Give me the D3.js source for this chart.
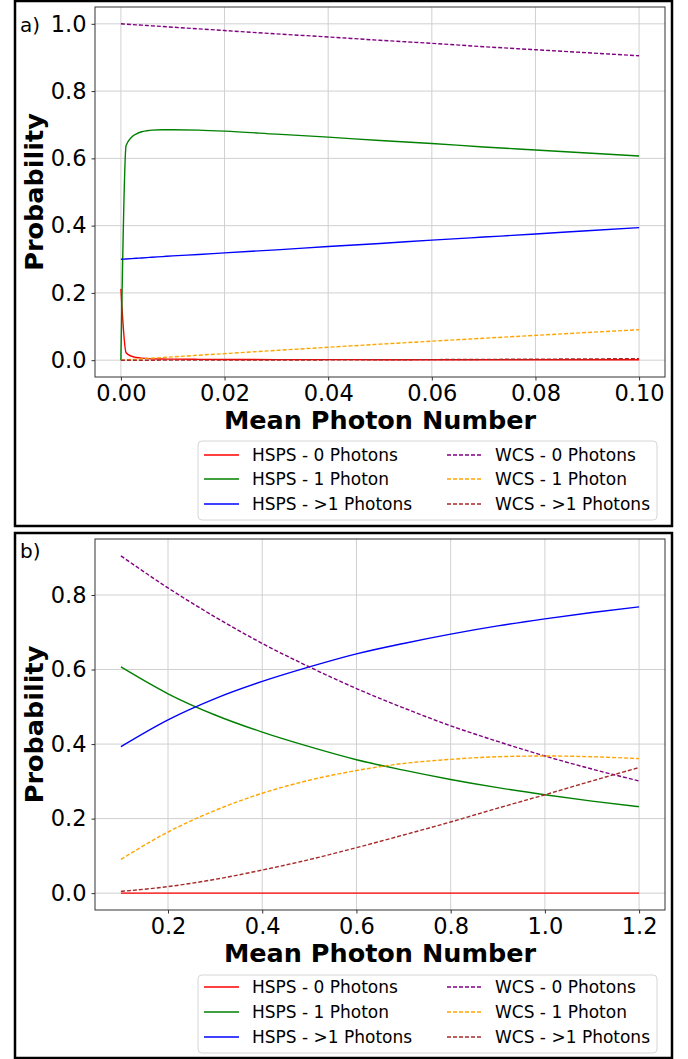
<!DOCTYPE html>
<html>
<head>
<meta charset="utf-8">
<script src="https://cdn.jsdelivr.net/npm/d3@7"></script>
<style>
  html, body { margin: 0; padding: 0; background: #fff; }
  svg { display: block; font-family: "DejaVu Sans", sans-serif; }
</style>
</head>
<body>
<svg id="chart" width="688" height="1059"></svg>
<script>
// ---------- Panel a data (mean photon number 0 – 0.1) ----------
const xA = [0, 0.001, 0.002, 0.003, 0.004, 0.005, 0.006, 0.008, 0.01, 0.015, 0.02, 0.03, 0.04, 0.05, 0.06, 0.07, 0.08, 0.09, 0.1];
const hsps0A = [0.212, 0.022, 0.012, 0.008, 0.006, 0.005, 0.004, 0.0035, 0.003, 0.0025, 0.002, 0.0018, 0.0016, 0.0015, 0.0014, 0.0013, 0.0012, 0.0012, 0.0011];
const hsps1A = [0.0, 0.638, 0.662, 0.673, 0.679, 0.682, 0.684, 0.685, 0.685, 0.684, 0.681, 0.672, 0.663, 0.653, 0.644, 0.634, 0.625, 0.616, 0.607];
const hspsMA = [0.300, 0.301, 0.302, 0.303, 0.304, 0.305, 0.306, 0.308, 0.310, 0.314, 0.319, 0.328, 0.338, 0.347, 0.357, 0.366, 0.375, 0.385, 0.394];
const wcs0A = [1.0, 0.999, 0.998, 0.997, 0.996, 0.995, 0.994, 0.992, 0.990, 0.985, 0.980, 0.970, 0.961, 0.951, 0.942, 0.932, 0.923, 0.914, 0.905];
const wcs1A = [0.0, 0.001, 0.002, 0.003, 0.004, 0.005, 0.006, 0.0079, 0.0099, 0.0148, 0.0196, 0.0291, 0.0384, 0.0476, 0.0565, 0.0652, 0.0738, 0.0823, 0.0905];
const wcsMA = [0.0, 0.0, 0.0, 0.0, 0.0, 0.0, 0.0, 0.00003, 0.00005, 0.0001, 0.0002, 0.0004, 0.0008, 0.0012, 0.0017, 0.0023, 0.0030, 0.0037, 0.0047];
const xTicksA = [0, 0.02, 0.04, 0.06, 0.08, 0.1];
const yTicksA = [0, 0.2, 0.4, 0.6, 0.8, 1.0];

// ---------- Panel b data (mean photon number 0.1 – 1.2) ----------
const xB = [0.1, 0.2, 0.3, 0.4, 0.5, 0.6, 0.7, 0.8, 0.9, 1.0, 1.1, 1.2];
const hsps0B = [0, 0, 0, 0, 0, 0, 0, 0, 0, 0, 0, 0];
const hsps1B = [0.607, 0.535, 0.478, 0.432, 0.393, 0.358, 0.330, 0.305, 0.283, 0.264, 0.247, 0.232];
const hspsMB = [0.393, 0.465, 0.522, 0.568, 0.607, 0.642, 0.670, 0.695, 0.717, 0.736, 0.753, 0.768];
const wcs0B = [0.905, 0.819, 0.741, 0.670, 0.607, 0.549, 0.497, 0.449, 0.407, 0.368, 0.333, 0.301];
const wcs1B = [0.0905, 0.164, 0.222, 0.268, 0.303, 0.329, 0.348, 0.359, 0.366, 0.368, 0.366, 0.361];
const wcsMB = [0.0047, 0.0175, 0.037, 0.062, 0.090, 0.122, 0.156, 0.191, 0.228, 0.264, 0.301, 0.337];
const xTicksB = [0.2, 0.4, 0.6, 0.8, 1.0, 1.2];
const yTicksB = [0, 0.2, 0.4, 0.6, 0.8];

// ---------- Series labels ----------
const seriesNames = ["HSPS - 0 Photons", "HSPS - 1 Photon", "HSPS - >1 Photons", "WCS - 0 Photons", "WCS - 1 Photon", "WCS - >1 Photons"];
const seriesColors = ["#ff0000", "#008000", "#0000ff", "#800080", "#ffa500", "#a52a2a"];
const seriesDashed = [false, false, false, true, true, true];

const svg = d3.select("#chart");
svg.append("rect").attr("width", 688).attr("height", 1059).attr("fill", "#fff");

function drawPanel(cfg) {
  const g = svg.append("g");
  const x = d3.scaleLinear().domain(cfg.xDomain).range([cfg.left, cfg.right]);
  const y = d3.scaleLinear().domain(cfg.yDomain).range([cfg.bottom, cfg.top]);

  // outer frame
  g.append("rect")
    .attr("x", cfg.frame[0]).attr("y", cfg.frame[1])
    .attr("width", cfg.frame[2]).attr("height", cfg.frame[3])
    .attr("fill", "none").attr("stroke", "#000").attr("stroke-width", 2.5);

  // grid
  g.append("g").selectAll("line").data(cfg.xTicks).join("line")
    .attr("x1", d => x(d)).attr("x2", d => x(d))
    .attr("y1", cfg.top).attr("y2", cfg.bottom)
    .attr("stroke", "#d0d0d0").attr("stroke-width", 1);
  g.append("g").selectAll("line").data(cfg.yTicks).join("line")
    .attr("x1", cfg.left).attr("x2", cfg.right)
    .attr("y1", d => y(d)).attr("y2", d => y(d))
    .attr("stroke", "#d0d0d0").attr("stroke-width", 1);

  // axes
  const xAxis = d3.axisBottom(x).tickValues(cfg.xTicks).tickFormat(d3.format(cfg.xFmt)).tickSize(3.5).tickPadding(4);
  const yAxis = d3.axisLeft(y).tickValues(cfg.yTicks).tickFormat(d3.format(".1f")).tickSize(3.5).tickPadding(5);
  const gx = g.append("g").attr("transform", `translate(0,${cfg.bottom})`).call(xAxis);
  const gy = g.append("g").attr("transform", `translate(${cfg.left},0)`).call(yAxis);
  [gx, gy].forEach(a => {
    a.select(".domain").remove();
    a.selectAll(".tick line").attr("stroke", "#333").attr("stroke-width", 1);
    a.selectAll(".tick text").attr("font-family", "DejaVu Sans").attr("font-size", 22.5).attr("fill", "#000");
  });
  gx.selectAll(".tick text").attr("dy", null).attr("y", 24).attr("dominant-baseline", "auto");

  // spines
  g.append("rect").attr("x", cfg.left).attr("y", cfg.top)
    .attr("width", cfg.right - cfg.left).attr("height", cfg.bottom - cfg.top)
    .attr("fill", "none").attr("stroke", "#333").attr("stroke-width", 1);

  // lines
  const clipId = "clip" + cfg.id;
  svg.append("clipPath").attr("id", clipId).append("rect")
    .attr("x", cfg.left).attr("y", cfg.top).attr("width", cfg.right - cfg.left).attr("height", cfg.bottom - cfg.top);
  const lg = g.append("g").attr("clip-path", `url(#${clipId})`);
  const line = d3.line().x(d => x(d[0])).y(d => y(d[1])).curve(d3.curveMonotoneX);
  cfg.series.forEach((vals, i) => {
    const pts = cfg.xs.map((xv, k) => [xv, vals[k]]);
    lg.append("path").attr("d", line(pts))
      .attr("fill", "none").attr("stroke", seriesColors[i])
      .attr("stroke-width", 1.4)
      .attr("stroke-dasharray", seriesDashed[i] ? "4,2" : null);
  });

  // labels
  g.append("text").attr("x", (cfg.left + cfg.right) / 2).attr("y", cfg.bottom + 52)
    .attr("text-anchor", "middle").attr("font-weight", "bold").attr("font-size", 25.5)
    .text("Mean Photon Number");
  g.append("text").attr("transform", `translate(43,${(cfg.top + cfg.bottom) / 2}) rotate(-90)`)
    .attr("text-anchor", "middle").attr("font-weight", "bold").attr("font-size", 25.5)
    .text("Probability");
  g.append("text").attr("x", 20).attr("y", cfg.tagY).attr("font-size", 20).text(cfg.tag);

  // legend
  const L = cfg.legend;
  g.append("rect").attr("x", L.x).attr("y", L.y).attr("width", L.w).attr("height", L.h)
    .attr("rx", 4).attr("fill", "#fff").attr("stroke", "#d6d6d6").attr("stroke-width", 1);
  seriesNames.forEach((name, i) => {
    const col = Math.floor(i / 3), row = i % 3;
    const lx = col === 0 ? 204 : 447;
    const ty = L.rows[row];
    g.append("line").attr("x1", lx).attr("x2", lx + 35).attr("y1", ty).attr("y2", ty)
      .attr("stroke", seriesColors[i]).attr("stroke-width", 1.4)
      .attr("stroke-dasharray", seriesDashed[i] ? "4,2" : null);
    g.append("text").attr("x", lx + 48).attr("y", ty).attr("dy", "0.36em")
      .attr("font-size", 17).text(name);
  });
}

drawPanel({
  id: "a", tag: "a)", tagY: 32,
  frame: [15, 1, 657, 525],
  left: 95, right: 665, top: 7, bottom: 377,
  xDomain: [-0.005, 0.105], yDomain: [-0.05, 1.05],
  xTicks: xTicksA, yTicks: yTicksA, xFmt: ".2f",
  xs: xA, series: [hsps0A, hsps1A, hspsMA, wcs0A, wcs1A, wcsMA],
  legend: { x: 198, y: 441, w: 459, h: 79, rows: [455, 479, 504] }
});

drawPanel({
  id: "b", tag: "b)", tagY: 558,
  frame: [15, 533, 657, 525],
  left: 95, right: 665, top: 539, bottom: 910,
  xDomain: [0.045, 1.255], yDomain: [-0.04525, 0.95025],
  xTicks: xTicksB, yTicks: yTicksB, xFmt: ".1f",
  xs: xB, series: [hsps0B, hsps1B, hspsMB, wcs0B, wcs1B, wcsMB],
  legend: { x: 198, y: 975, w: 459, h: 78, rows: [987, 1012, 1037] }
});
</script>
</body>
</html>
